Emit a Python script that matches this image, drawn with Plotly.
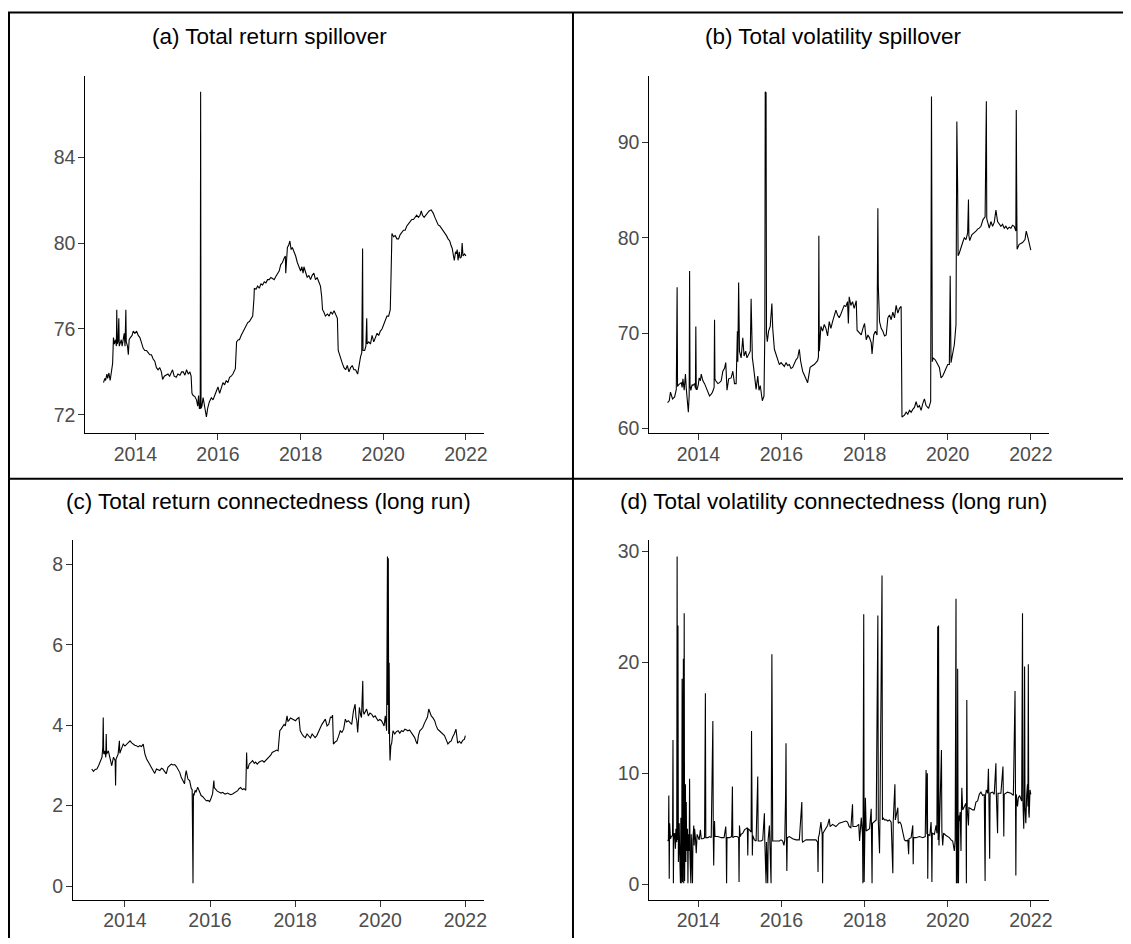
import plotly.graph_objects as go

WIN_W, WIN_H = 1131, 944
OFF = 8                      # the page body margin shifts the figure by 8 px
W, H = WIN_W - OFF, WIN_H - OFF

# ---------------- data (decimal years) ----------------
a_year = [
    2013.23, 2013.26, 2013.28, 2013.31, 2013.33, 2013.36, 2013.39, 2013.42, 2013.45, 2013.47,
    2013.49, 2013.52, 2013.54, 2013.55, 2013.56, 2013.58, 2013.60, 2013.61, 2013.63, 2013.66,
    2013.68, 2013.71, 2013.73, 2013.75, 2013.77, 2013.78, 2013.81, 2013.83, 2013.85, 2013.88,
    2013.92, 2013.95, 2013.99, 2014.03, 2014.07, 2014.11, 2014.15, 2014.19, 2014.23, 2014.27,
    2014.31, 2014.35, 2014.39, 2014.43, 2014.47, 2014.51, 2014.55, 2014.59, 2014.63, 2014.66,
    2014.70, 2014.75, 2014.79, 2014.83, 2014.87, 2014.90, 2014.94, 2014.99, 2015.03, 2015.08,
    2015.12, 2015.16, 2015.20, 2015.24, 2015.28, 2015.32, 2015.35, 2015.37, 2015.40, 2015.44,
    2015.48, 2015.51, 2015.53, 2015.55, 2015.57, 2015.58, 2015.59, 2015.61, 2015.64, 2015.67,
    2015.70, 2015.72, 2015.75, 2015.79, 2015.84, 2015.88, 2015.92, 2015.96, 2016.00, 2016.04,
    2016.08, 2016.12, 2016.16, 2016.20, 2016.24, 2016.28, 2016.32, 2016.36, 2016.42, 2016.45,
    2016.49, 2016.52, 2016.56, 2016.60, 2016.64, 2016.68, 2016.72, 2016.76, 2016.80, 2016.84,
    2016.87, 2016.88, 2016.92, 2016.96, 2017.00, 2017.04, 2017.08, 2017.12, 2017.16, 2017.20,
    2017.24, 2017.28, 2017.32, 2017.36, 2017.40, 2017.44, 2017.48, 2017.52, 2017.56, 2017.60,
    2017.63, 2017.64, 2017.66, 2017.68, 2017.71, 2017.74, 2017.77, 2017.80, 2017.84, 2017.88,
    2017.92, 2017.96, 2018.00, 2018.03, 2018.06, 2018.08, 2018.12, 2018.16, 2018.20, 2018.24,
    2018.28, 2018.32, 2018.36, 2018.40, 2018.44, 2018.48, 2018.51, 2018.53, 2018.56, 2018.60,
    2018.65, 2018.69, 2018.73, 2018.77, 2018.81, 2018.85, 2018.89, 2018.91, 2018.94, 2018.98,
    2019.01, 2019.05, 2019.09, 2019.13, 2019.17, 2019.21, 2019.25, 2019.29, 2019.33, 2019.38,
    2019.41, 2019.45, 2019.48, 2019.50, 2019.51, 2019.55, 2019.58, 2019.60, 2019.61, 2019.65,
    2019.69, 2019.73, 2019.77, 2019.81, 2019.85, 2019.89, 2019.93, 2019.97, 2020.01, 2020.05,
    2020.09, 2020.13, 2020.17, 2020.19, 2020.21, 2020.25, 2020.29, 2020.33, 2020.37, 2020.41,
    2020.45, 2020.49, 2020.53, 2020.57, 2020.61, 2020.65, 2020.69, 2020.73, 2020.77, 2020.81,
    2020.85, 2020.89, 2020.92, 2020.95, 2020.99, 2021.03, 2021.07, 2021.11, 2021.16, 2021.21,
    2021.25, 2021.29, 2021.33, 2021.37, 2021.41, 2021.45, 2021.49, 2021.53, 2021.57, 2021.61,
    2021.64, 2021.67, 2021.70, 2021.72, 2021.75, 2021.77, 2021.79, 2021.81, 2021.84, 2021.86,
    2021.89, 2021.91, 2021.93, 2021.97, 2022.00,
]
a_value = [
    73.5, 73.7, 73.6, 73.9, 73.7, 73.95, 73.6, 74.0, 74.4, 75.6,
    75.3, 75.5, 75.2, 76.9, 75.3, 75.4, 76.5, 75.2, 75.3, 75.5,
    75.2, 75.6, 75.8, 75.2, 76.9, 75.4, 75.2, 74.8, 75.5, 75.6,
    75.7, 75.9, 75.8, 75.9, 75.7, 75.6, 75.3, 75.1, 75.0, 75.0,
    74.9, 74.8, 74.8, 74.6, 74.5, 74.2, 74.1, 74.2, 74.0, 73.65,
    73.8, 73.85, 73.9, 73.8, 74.0, 74.1, 73.8, 73.75, 73.9, 73.85,
    74.0, 74.0, 73.85, 74.1, 73.9, 74.0, 73.8, 73.0, 72.9, 72.85,
    72.7, 72.4, 72.9, 72.3, 72.3, 87.05, 72.3, 72.4, 72.8, 72.5,
    72.1, 71.9, 72.3, 72.6, 72.8, 72.7, 72.9, 73.1, 73.3, 73.0,
    73.3, 73.5, 73.4, 73.6, 73.5, 73.75, 73.8, 73.9, 74.15, 75.4,
    75.5, 75.5, 75.7, 75.85, 76.0, 76.2, 76.3, 76.35, 76.5, 76.6,
    77.4, 77.9, 77.85, 78.0, 77.9, 78.1, 78.05, 78.2, 78.15, 78.3,
    78.3, 78.4, 78.35, 78.3, 78.45, 78.6, 78.7, 79.0, 79.1, 79.3,
    79.4, 78.6, 79.5, 79.8, 79.9, 80.1, 79.7, 79.8, 79.6, 79.4,
    79.1, 78.9, 78.7, 78.9, 78.6, 78.9, 78.6, 78.4, 78.5, 78.3,
    78.5, 78.6, 78.3, 78.4, 78.2, 78.0, 77.5, 76.9, 76.8, 76.6,
    76.7, 76.6, 76.8, 76.7, 76.85, 76.7, 76.5, 75.0, 74.8, 74.5,
    74.4, 74.2, 74.1, 74.3, 74.0, 74.2, 74.3, 74.1, 74.1, 73.9,
    74.3, 74.7, 74.9, 79.75, 75.0, 75.0, 75.2, 76.5, 75.3, 75.4,
    75.3, 75.7, 75.4, 75.6, 75.8, 75.7, 75.9, 76.0, 76.2, 76.4,
    76.6, 76.6, 76.9, 78.6, 80.45, 80.3, 80.35, 80.2, 80.2, 80.4,
    80.5, 80.6, 80.6, 80.8, 80.9, 81.0, 81.1, 81.1, 81.2, 81.3,
    81.2, 81.3, 81.5, 81.3, 81.2, 81.3, 81.4, 81.5, 81.55, 81.4,
    81.2, 81.0, 80.85, 80.8, 80.7, 80.6, 80.5, 80.35, 80.2, 80.1,
    79.9, 79.75, 79.4, 79.2, 79.6, 79.5, 79.7, 79.2, 79.6, 79.3,
    79.35, 80.0, 79.4, 79.5, 79.4,
]

b_year = [
    2013.26, 2013.30, 2013.33, 2013.36, 2013.38, 2013.43, 2013.47, 2013.49, 2013.50, 2013.53,
    2013.55, 2013.59, 2013.61, 2013.63, 2013.66, 2013.69, 2013.71, 2013.73, 2013.76, 2013.78,
    2013.79, 2013.80, 2013.82, 2013.85, 2013.87, 2013.91, 2013.93, 2013.94, 2013.95, 2013.97,
    2014.00, 2014.02, 2014.05, 2014.07, 2014.11, 2014.15, 2014.18, 2014.21, 2014.27, 2014.31,
    2014.34, 2014.38, 2014.39, 2014.40, 2014.42, 2014.47, 2014.51, 2014.55, 2014.59, 2014.63,
    2014.66, 2014.69, 2014.71, 2014.73, 2014.79, 2014.83, 2014.87, 2014.91, 2014.94, 2014.95,
    2014.97, 2014.98, 2014.99, 2015.03, 2015.07, 2015.10, 2015.14, 2015.17, 2015.22, 2015.25,
    2015.27, 2015.28, 2015.30, 2015.33, 2015.36, 2015.39, 2015.43, 2015.46, 2015.49, 2015.52,
    2015.54, 2015.58, 2015.60, 2015.61, 2015.63, 2015.64, 2015.66, 2015.69, 2015.73, 2015.77,
    2015.79, 2015.83, 2015.87, 2015.91, 2015.95, 2015.99, 2016.03, 2016.07, 2016.11, 2016.15,
    2016.19, 2016.23, 2016.27, 2016.31, 2016.35, 2016.39, 2016.43, 2016.46, 2016.51, 2016.55,
    2016.59, 2016.63, 2016.66, 2016.69, 2016.75, 2016.79, 2016.83, 2016.87, 2016.89, 2016.90,
    2016.91, 2016.95, 2016.99, 2017.03, 2017.07, 2017.11, 2017.15, 2017.19, 2017.23, 2017.27,
    2017.31, 2017.35, 2017.39, 2017.43, 2017.47, 2017.51, 2017.55, 2017.59, 2017.61, 2017.63,
    2017.67, 2017.71, 2017.75, 2017.80, 2017.82, 2017.88, 2017.92, 2017.96, 2018.00, 2018.04,
    2018.08, 2018.12, 2018.16, 2018.18, 2018.22, 2018.26, 2018.30, 2018.32, 2018.33, 2018.36,
    2018.40, 2018.44, 2018.48, 2018.52, 2018.56, 2018.60, 2018.64, 2018.68, 2018.72, 2018.76,
    2018.80, 2018.84, 2018.88, 2018.90, 2018.96, 2019.00, 2019.04, 2019.08, 2019.12, 2019.16,
    2019.20, 2019.24, 2019.28, 2019.32, 2019.36, 2019.40, 2019.44, 2019.48, 2019.54, 2019.59,
    2019.61, 2019.63, 2019.65, 2019.70, 2019.76, 2019.80, 2019.84, 2019.88, 2019.92, 2019.96,
    2020.00, 2020.04, 2020.06, 2020.08, 2020.12, 2020.16, 2020.20, 2020.22, 2020.24, 2020.25,
    2020.28, 2020.32, 2020.36, 2020.40, 2020.44, 2020.48, 2020.50, 2020.51, 2020.53, 2020.58,
    2020.64, 2020.68, 2020.72, 2020.76, 2020.80, 2020.85, 2020.90, 2020.93, 2020.94, 2020.96,
    2021.00, 2021.04, 2021.08, 2021.12, 2021.16, 2021.20, 2021.24, 2021.28, 2021.32, 2021.36,
    2021.40, 2021.44, 2021.48, 2021.52, 2021.56, 2021.60, 2021.64, 2021.65, 2021.66, 2021.67,
    2021.72, 2021.76, 2021.80, 2021.86, 2021.89, 2021.93, 2021.96, 2022.00,
]
b_value = [
    62.7, 62.9, 63.8, 63.2, 63.1, 63.3, 64.1, 74.8, 64.4, 64.6,
    64.7, 64.8, 64.3, 65.2, 64.0, 65.7, 64.2, 63.3, 61.7, 63.5,
    76.5, 64.5, 64.0, 64.6, 64.5, 64.7, 64.2, 70.7, 64.1, 64.1,
    64.6, 65.3, 65.0, 65.7, 65.0, 64.7, 64.4, 64.0, 63.4, 63.6,
    63.8, 64.3, 71.4, 65.2, 65.0, 64.7, 64.8, 65.0, 66.0, 66.3,
    66.9, 64.0, 64.6, 65.2, 65.3, 66.0, 64.7, 64.7, 70.2, 67.0,
    75.3, 68.5, 68.1, 67.4, 69.5, 67.6, 68.1, 67.4, 67.8, 68.1,
    73.6, 69.0, 67.4, 66.4, 65.3, 64.1, 65.5, 64.0, 64.5, 63.6,
    62.9, 63.4, 70.0, 95.3, 95.2, 70.0, 69.1, 70.2, 70.7, 73.1,
    70.5, 68.3, 67.8, 67.4, 66.7, 66.9, 66.7, 66.5, 66.9, 66.6,
    66.7, 66.3, 66.4, 66.9, 67.2, 67.4, 68.3, 67.1, 66.0, 65.6,
    65.2, 64.8, 65.6, 66.4, 66.6, 66.7, 66.9, 67.1, 67.5, 80.2,
    68.1, 70.7, 70.2, 70.9, 70.5, 69.7, 71.2, 70.5, 71.2, 71.7,
    72.4, 71.9, 71.6, 72.0, 72.4, 72.9, 72.8, 73.3, 71.0, 73.8,
    72.9, 73.3, 72.6, 73.4, 70.3, 70.0, 69.8, 70.5, 71.0, 69.3,
    69.8, 69.5, 69.0, 67.8, 69.8, 70.2, 69.8, 83.1, 75.0, 71.2,
    70.5, 70.2, 69.7, 69.8, 71.6, 71.9, 71.4, 72.2, 71.6, 72.9,
    72.1, 72.6, 72.8, 61.2, 61.4, 61.7, 61.5, 61.9, 61.7, 62.0,
    62.2, 62.8, 62.2, 62.4, 61.9, 62.6, 63.1, 62.4, 62.1, 62.8,
    94.8, 67.0, 67.4, 67.2, 66.7, 66.4, 65.3, 65.5, 65.9, 66.4,
    66.7, 66.7, 76.0, 66.9, 68.1, 68.8, 70.9, 92.2, 85.0, 78.1,
    78.4, 79.1, 79.5, 80.0, 79.8, 80.5, 84.0, 80.2, 79.7, 80.3,
    80.5, 80.7, 80.9, 81.0, 81.2, 81.9, 82.2, 94.3, 82.0, 81.7,
    81.0, 81.7, 81.2, 81.6, 82.9, 81.7, 81.4, 81.2, 81.4, 81.0,
    81.2, 80.9, 81.1, 81.0, 81.3, 81.2, 80.7, 93.4, 85.0, 78.8,
    79.3, 79.4, 79.5, 79.8, 80.7, 80.0, 79.5, 78.7,
]

c_year = [
    2013.22, 2013.26, 2013.30, 2013.34, 2013.38, 2013.42, 2013.46, 2013.48, 2013.49, 2013.50,
    2013.51, 2013.53, 2013.55, 2013.56, 2013.57, 2013.61, 2013.65, 2013.69, 2013.73, 2013.77,
    2013.78, 2013.79, 2013.81, 2013.84, 2013.87, 2013.88, 2013.90, 2013.96, 2014.00, 2014.04,
    2014.08, 2014.12, 2014.16, 2014.19, 2014.23, 2014.27, 2014.31, 2014.35, 2014.39, 2014.43,
    2014.47, 2014.51, 2014.55, 2014.58, 2014.62, 2014.66, 2014.70, 2014.74, 2014.78, 2014.82,
    2014.86, 2014.89, 2014.93, 2014.97, 2015.01, 2015.05, 2015.09, 2015.13, 2015.17, 2015.21,
    2015.25, 2015.29, 2015.32, 2015.36, 2015.40, 2015.42, 2015.44, 2015.48, 2015.52, 2015.56,
    2015.58, 2015.60, 2015.61, 2015.62, 2015.65, 2015.67, 2015.71, 2015.75, 2015.79, 2015.83,
    2015.87, 2015.91, 2015.95, 2015.99, 2016.02, 2016.06, 2016.09, 2016.10, 2016.12, 2016.17,
    2016.22, 2016.26, 2016.30, 2016.34, 2016.37, 2016.41, 2016.45, 2016.49, 2016.53, 2016.57,
    2016.61, 2016.65, 2016.68, 2016.72, 2016.76, 2016.80, 2016.84, 2016.86, 2016.87, 2016.89,
    2016.92, 2016.96, 2017.00, 2017.04, 2017.07, 2017.11, 2017.15, 2017.19, 2017.23, 2017.27,
    2017.31, 2017.35, 2017.39, 2017.43, 2017.46, 2017.50, 2017.54, 2017.57, 2017.60, 2017.64,
    2017.67, 2017.70, 2017.74, 2017.77, 2017.81, 2017.83, 2017.85, 2017.89, 2017.93, 2017.97,
    2018.01, 2018.05, 2018.09, 2018.12, 2018.14, 2018.16, 2018.20, 2018.24, 2018.28, 2018.32,
    2018.36, 2018.40, 2018.44, 2018.47, 2018.51, 2018.55, 2018.59, 2018.63, 2018.67, 2018.71,
    2018.75, 2018.79, 2018.83, 2018.86, 2018.88, 2018.90, 2018.94, 2018.98, 2019.02, 2019.06,
    2019.10, 2019.14, 2019.18, 2019.21, 2019.25, 2019.29, 2019.33, 2019.37, 2019.41, 2019.43,
    2019.45, 2019.47, 2019.49, 2019.51, 2019.54, 2019.56, 2019.59, 2019.60, 2019.62, 2019.65,
    2019.68, 2019.72, 2019.76, 2019.80, 2019.84, 2019.88, 2019.92, 2019.95, 2019.99, 2020.03,
    2020.06, 2020.09, 2020.12, 2020.15, 2020.17, 2020.18, 2020.19, 2020.20, 2020.21, 2020.22,
    2020.23, 2020.25, 2020.27, 2020.30, 2020.34, 2020.38, 2020.42, 2020.46, 2020.50, 2020.54,
    2020.58, 2020.62, 2020.65, 2020.69, 2020.73, 2020.77, 2020.81, 2020.84, 2020.87, 2020.90,
    2020.93, 2020.97, 2021.00, 2021.04, 2021.08, 2021.11, 2021.14, 2021.17, 2021.20, 2021.24,
    2021.28, 2021.31, 2021.35, 2021.39, 2021.43, 2021.47, 2021.51, 2021.55, 2021.59, 2021.63,
    2021.67, 2021.70, 2021.74, 2021.78, 2021.80, 2021.82, 2021.86, 2021.90, 2021.94, 2021.98,
    2022.00,
]
c_value = [
    2.91, 2.85, 2.90, 2.91, 2.99, 3.12, 3.20, 3.45, 4.19, 3.30,
    3.28, 3.36, 3.20, 3.78, 3.28, 3.36, 3.16, 2.99, 3.20, 3.12,
    2.50, 3.15, 3.20, 3.28, 3.61, 3.30, 3.36, 3.53, 3.48, 3.53,
    3.57, 3.61, 3.56, 3.53, 3.50, 3.49, 3.46, 3.49, 3.47, 3.53,
    3.28, 3.16, 3.08, 3.03, 2.95, 2.87, 2.80, 2.91, 2.89, 2.87,
    2.93, 2.91, 2.85, 2.79, 2.95, 3.00, 3.03, 3.01, 3.02, 2.97,
    2.91, 2.82, 2.71, 2.62, 2.54, 2.75, 2.87, 2.66, 2.62, 2.42,
    2.40, 0.07, 2.30, 2.25, 2.38, 2.33, 2.46, 2.33, 2.25, 2.22,
    2.17, 2.12, 2.13, 2.10, 2.17, 2.29, 2.62, 2.45, 2.42, 2.36,
    2.33, 2.31, 2.33, 2.29, 2.29, 2.31, 2.29, 2.27, 2.29, 2.31,
    2.33, 2.37, 2.42, 2.45, 2.40, 2.42, 2.38, 3.32, 2.95, 2.91,
    3.03, 3.08, 3.12, 3.05, 3.08, 3.03, 3.08, 3.10, 3.12, 3.08,
    3.12, 3.16, 3.20, 3.26, 3.32, 3.35, 3.36, 3.38, 3.36, 3.86,
    3.90, 3.94, 4.02, 3.98, 4.23, 4.10, 4.11, 4.18, 4.15, 4.12,
    4.11, 4.16, 4.19, 3.86, 3.80, 3.78, 3.72, 3.69, 3.78, 3.74,
    3.68, 3.78, 3.74, 3.69, 3.74, 3.86, 3.93, 4.02, 4.10, 4.15,
    3.98, 4.02, 4.20, 4.19, 4.25, 3.53, 3.58, 3.61, 3.72, 3.86,
    3.82, 3.90, 4.15, 4.08, 4.11, 4.07, 4.02, 4.35, 4.52, 4.20,
    4.11, 3.82, 4.30, 4.44, 4.25, 4.19, 5.10, 4.35, 4.27, 4.32,
    4.40, 4.23, 4.30, 4.27, 4.20, 4.23, 4.17, 4.11, 4.14, 4.11,
    4.05, 3.98, 4.23, 3.86, 8.19, 4.50, 8.15, 3.78, 5.55, 3.60,
    3.12, 3.49, 3.55, 3.86, 3.78, 3.84, 3.86, 3.80, 3.86, 3.84,
    3.90, 3.88, 3.86, 3.88, 3.82, 3.76, 3.69, 3.60, 3.53, 3.75,
    3.86, 3.90, 3.94, 4.05, 4.15, 4.20, 4.40, 4.28, 4.23, 4.18,
    4.11, 4.00, 3.90, 3.86, 3.82, 3.78, 3.74, 3.64, 3.53, 3.58,
    3.61, 3.70, 3.78, 3.90, 3.65, 3.55, 3.60, 3.55, 3.62, 3.65,
    3.74,
]

d_year = [
    2013.26, 2013.28, 2013.29, 2013.30, 2013.31, 2013.33, 2013.35, 2013.38, 2013.39, 2013.40,
    2013.41, 2013.43, 2013.45, 2013.46, 2013.48, 2013.49, 2013.50, 2013.51, 2013.52, 2013.54,
    2013.55, 2013.57, 2013.58, 2013.59, 2013.60, 2013.61, 2013.62, 2013.63, 2013.64, 2013.65,
    2013.66, 2013.67, 2013.68, 2013.69, 2013.70, 2013.71, 2013.72, 2013.74, 2013.75, 2013.76,
    2013.78, 2013.79, 2013.80, 2013.82, 2013.83, 2013.84, 2013.86, 2013.87, 2013.89, 2013.90,
    2013.91, 2013.93, 2013.95, 2013.97, 2013.99, 2014.02, 2014.05, 2014.07, 2014.11, 2014.15,
    2014.17, 2014.18, 2014.23, 2014.27, 2014.31, 2014.35, 2014.36, 2014.37, 2014.38, 2014.39,
    2014.40, 2014.47, 2014.55, 2014.62, 2014.66, 2014.67, 2014.68, 2014.69, 2014.75, 2014.80,
    2014.82, 2014.83, 2014.87, 2014.93, 2014.97, 2014.98, 2014.99, 2015.01, 2015.03, 2015.07,
    2015.11, 2015.15, 2015.18, 2015.19, 2015.20, 2015.23, 2015.27, 2015.28, 2015.29, 2015.30,
    2015.31, 2015.35, 2015.39, 2015.43, 2015.44, 2015.51, 2015.55, 2015.59, 2015.60, 2015.63,
    2015.64, 2015.67, 2015.68, 2015.71, 2015.72, 2015.75, 2015.77, 2015.78, 2015.79, 2015.87,
    2015.95, 2015.99, 2016.03, 2016.06, 2016.08, 2016.10, 2016.11, 2016.12, 2016.13, 2016.14,
    2016.19, 2016.27, 2016.35, 2016.43, 2016.49, 2016.50, 2016.51, 2016.59, 2016.67, 2016.75,
    2016.83, 2016.87, 2016.88, 2016.89, 2016.91, 2016.95, 2016.98, 2016.99, 2017.00, 2017.03,
    2017.07, 2017.11, 2017.15, 2017.17, 2017.23, 2017.31, 2017.39, 2017.47, 2017.55, 2017.59,
    2017.63, 2017.67, 2017.71, 2017.72, 2017.80, 2017.86, 2017.88, 2017.92, 2017.95, 2017.96,
    2017.98, 2017.99, 2018.00, 2018.02, 2018.04, 2018.08, 2018.12, 2018.16, 2018.17, 2018.18,
    2018.19, 2018.24, 2018.28, 2018.32, 2018.33, 2018.36, 2018.37, 2018.42, 2018.43, 2018.44,
    2018.48, 2018.52, 2018.56, 2018.60, 2018.64, 2018.68, 2018.69, 2018.73, 2018.74, 2018.80,
    2018.81, 2018.85, 2018.88, 2018.93, 2018.96, 2019.00, 2019.04, 2019.06, 2019.07, 2019.12,
    2019.16, 2019.17, 2019.18, 2019.24, 2019.32, 2019.40, 2019.46, 2019.48, 2019.50, 2019.51,
    2019.52, 2019.53, 2019.57, 2019.60, 2019.61, 2019.62, 2019.63, 2019.68, 2019.72, 2019.74,
    2019.76, 2019.77, 2019.78, 2019.79, 2019.80, 2019.85, 2019.86, 2019.88, 2019.90, 2019.96,
    2020.04, 2020.08, 2020.12, 2020.16, 2020.18, 2020.20, 2020.21, 2020.22, 2020.23, 2020.24,
    2020.25, 2020.26, 2020.27, 2020.28, 2020.30, 2020.32, 2020.33, 2020.34, 2020.36, 2020.40,
    2020.44, 2020.45, 2020.46, 2020.47, 2020.50, 2020.51, 2020.56, 2020.60, 2020.64, 2020.68,
    2020.72, 2020.76, 2020.80, 2020.84, 2020.88, 2020.90, 2020.91, 2020.93, 2020.96, 2020.98,
    2020.99, 2021.01, 2021.02, 2021.08, 2021.12, 2021.16, 2021.17, 2021.20, 2021.21, 2021.28,
    2021.33, 2021.34, 2021.35, 2021.36, 2021.44, 2021.52, 2021.58, 2021.62, 2021.63, 2021.64,
    2021.65, 2021.68, 2021.70, 2021.73, 2021.78, 2021.80, 2021.81, 2021.83, 2021.84, 2021.85,
    2021.86, 2021.88, 2021.90, 2021.92, 2021.93, 2021.94, 2021.95, 2021.96, 2021.98, 2022.00,
]
d_value = [
    4.0, 3.9, 8.0, 0.5, 5.5, 4.1, 4.3, 4.4, 13.0, 0.1,
    4.5, 4.6, 3.2, 5.0, 3.8, 29.5, 4.0, 23.3, 2.0, 5.5,
    3.0, 0.1, 6.0, 2.5, 0.1, 18.5, 0.2, 6.0, 20.3, 0.1,
    24.4, 0.3, 5.0, 9.0, 2.0, 7.4, 3.0, 5.0, 0.1, 4.5,
    3.0, 9.5, 2.5, 0.1, 4.5, 3.5, 0.1, 4.0, 5.3, 3.5,
    5.0, 4.2, 2.8, 4.5, 4.2, 4.0, 4.9, 4.1, 4.1, 4.2,
    17.2, 4.2, 4.2, 4.3, 4.2, 14.7, 4.3, 1.7, 4.3, 5.7,
    4.3, 4.3, 4.2, 4.2, 5.2, 4.3, 0.1, 4.2, 4.2, 4.3,
    8.8, 4.2, 4.3, 4.3, 4.2, 0.2, 5.3, 4.3, 4.5, 4.6,
    4.9, 5.0, 5.1, 2.6, 5.0, 4.9, 4.7, 13.8, 4.5, 2.6,
    4.4, 4.0, 3.9, 9.7, 3.9, 3.9, 4.0, 6.4, 3.8, 0.1,
    3.8, 0.1, 4.0, 5.3, 4.0, 0.1, 20.7, 4.0, 3.9, 3.9,
    3.9, 4.0, 3.9, 3.5, 4.0, 8.1, 12.7, 4.0, 1.2, 4.2,
    4.3, 4.1, 4.0, 4.0, 7.4, 4.0, 3.8, 4.0, 4.0, 4.0,
    4.0, 3.8, 1.1, 4.2, 4.5, 5.6, 4.5, 0.1, 4.6, 4.8,
    5.0, 5.3, 5.9, 5.2, 5.4, 5.2, 5.5, 5.6, 5.7, 5.6,
    5.2, 5.1, 7.2, 5.2, 5.2, 5.4, 3.9, 6.0, 4.5, 0.1,
    24.3, 0.2, 4.8, 7.8, 4.8, 4.9, 5.0, 6.8, 5.0, 0.1,
    5.5, 5.7, 5.8, 24.2, 5.8, 2.8, 5.9, 27.8, 5.8, 6.0,
    5.8, 5.8, 5.7, 5.8, 5.6, 1.0, 5.7, 9.0, 5.8, 6.9,
    5.5, 5.6, 5.4, 4.5, 4.0, 3.9, 4.0, 2.7, 4.1, 4.2,
    5.3, 1.8, 4.2, 4.2, 4.3, 4.2, 4.3, 10.3, 4.5, 10.0,
    0.5, 4.5, 4.4, 5.6, 4.4, 0.2, 4.6, 4.5, 5.3, 4.6,
    23.2, 4.0, 23.3, 3.5, 4.7, 12.1, 4.8, 3.5, 4.6, 4.4,
    4.2, 4.0, 3.9, 3.0, 4.0, 25.7, 0.1, 6.0, 0.1, 19.4,
    4.0, 0.1, 6.2, 5.7, 6.5, 3.0, 6.8, 8.7, 6.7, 7.0,
    7.3, 0.1, 16.6, 6.8, 5.3, 6.9, 6.8, 6.7, 6.7, 7.4,
    7.5, 8.1, 8.3, 8.0, 8.1, 0.3, 8.0, 8.5, 8.2, 10.4,
    8.1, 2.3, 8.2, 8.3, 8.1, 10.9, 8.2, 4.6, 8.2, 8.2,
    10.6, 8.1, 4.3, 8.1, 8.3, 8.2, 8.0, 17.4, 8.0, 0.8,
    8.1, 7.0, 7.8, 8.0, 7.5, 24.4, 7.5, 5.0, 7.6, 19.6,
    7.0, 5.5, 8.0, 9.0, 7.0, 19.8, 6.5, 6.0, 8.5, 8.1,
]

titles = [
    "(a) Total return spillover",
    "(b) Total volatility spillover",
    "(c) Total return connectedness (long run)",
    "(d) Total volatility connectedness (long run)",
]
x_ticks = [2014, 2016, 2018, 2020, 2022]
y_ticks = [[72, 76, 80, 84], [60, 70, 80, 90], [0, 2, 4, 6, 8], [0, 10, 20, 30]]

# ---------------- layout geometry (window pixels) ----------------
FONT = "Liberation Sans, Arial, Helvetica, sans-serif"
TICK_SIZE = 19.5
TITLE_SIZE = 22.5
cells = [  # plot area: x0, x1, y_top, y_bottom ; title centre x, y
    dict(px=(85.7, 485.7), py=(76, 436), t=(270, 37)),
    dict(px=(651.7, 1052.7), py=(76, 436), t=(836, 37)),
    dict(px=(73.3, 485.7), py=(543.7, 905.3), t=(269, 505)),
    dict(px=(651.7, 1052.7), py=(543.7, 905.3), t=(836, 505)),
]


def fx(px):
    return (px - OFF) / W


def fy(py):
    return 1 - (py - OFF) / H


series = [(a_year, a_value), (b_year, b_value), (c_year, c_value), (d_year, d_value)]
for xs, ys in series:
    if len(xs) != len(ys):
        raise ValueError(f"length mismatch {len(xs)} vs {len(ys)}")


def expand(vals, frac=0.05):
    lo, hi = min(vals), max(vals)
    r = hi - lo
    return [lo - frac * r, hi + frac * r]


fig = go.Figure()
layout = dict(
    width=W, height=H,
    margin=dict(l=0, r=0, t=0, b=0),
    paper_bgcolor="white", plot_bgcolor="white",
    showlegend=False, hovermode=False,
    font=dict(family=FONT, color="#4D4D4D"),
)
annotations = []

for i, ((xs, ys), cell) in enumerate(zip(series, cells)):
    n = "" if i == 0 else str(i + 1)
    fig.add_trace(go.Scatter(
        x=xs, y=ys, mode="lines",
        line=dict(color="black", width=1.1),
        xaxis="x" + n, yaxis="y" + n,
    ))
    x0, x1 = cell["px"]
    yt, yb = cell["py"]
    common = dict(
        showline=True, linecolor="black", linewidth=1.1,
        ticks="outside", ticklen=6, tickwidth=1.1, tickcolor="#333333",
        showgrid=False, zeroline=False, fixedrange=True,
        tickfont=dict(family=FONT, size=TICK_SIZE, color="#4D4D4D"),
    )
    layout["xaxis" + n] = dict(
        common, domain=[fx(x0), fx(x1)], anchor="y" + n,
        range=expand(xs), tickmode="array",
        tickvals=x_ticks, ticktext=[str(t) for t in x_ticks],
        ticklabelstandoff=-3,
    )
    layout["yaxis" + n] = dict(
        common, domain=[fy(yb), fy(yt)], anchor="x" + n,
        range=expand(ys), tickmode="array",
        tickvals=y_ticks[i], ticktext=[str(t) for t in y_ticks[i]],
        ticklabelstandoff=-1,
    )
    tx, ty = cell["t"]
    annotations.append(dict(
        text=titles[i], x=fx(tx), y=fy(ty), xref="paper", yref="paper",
        xanchor="center", yanchor="middle", showarrow=False,
        font=dict(family=FONT, size=TITLE_SIZE, color="black"),
    ))

# panel frame lines
BW = 2
line = dict(color="black", width=BW)
shapes = [
    dict(type="line", xref="paper", yref="paper", x0=fx(8), x1=1.0, y0=fy(12.5), y1=fy(12.5), line=line),
    dict(type="line", xref="paper", yref="paper", x0=fx(9), x1=fx(9), y0=0, y1=fy(12.5), line=line),
    dict(type="line", xref="paper", yref="paper", x0=fx(575), x1=fx(575), y0=0, y1=fy(12.5), line=line),
    dict(type="line", xref="paper", yref="paper", x0=fx(8), x1=1.0, y0=fy(481.7), y1=fy(481.7), line=line),
]
layout["annotations"] = annotations
layout["shapes"] = shapes
fig.update_layout(**layout)

fig.write_html("out.html")
